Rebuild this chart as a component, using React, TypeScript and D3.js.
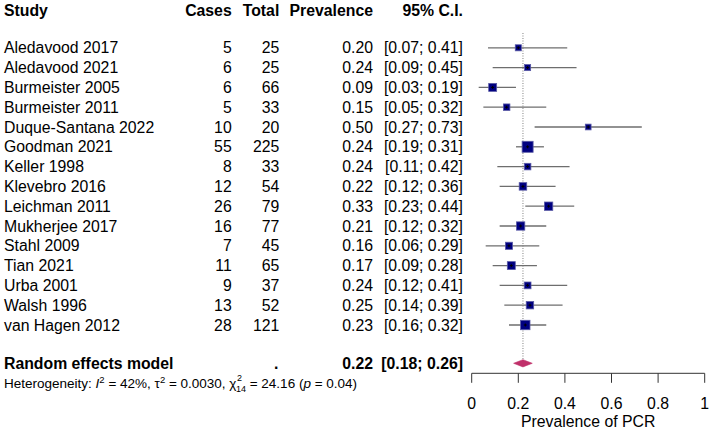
import React from "react";
import * as d3 from "d3";

const studies = [
  "Aledavood 2017", "Aledavood 2021", "Burmeister 2005", "Burmeister 2011",
  "Duque-Santana 2022", "Goodman 2021", "Keller 1998", "Klevebro 2016",
  "Leichman 2011", "Mukherjee 2017", "Stahl 2009", "Tian 2021",
  "Urba 2001", "Walsh 1996", "van Hagen 2012",
];
const cases = [5, 6, 6, 5, 10, 55, 8, 12, 26, 16, 7, 11, 9, 13, 28];
const totals = [25, 25, 66, 33, 20, 225, 33, 54, 79, 77, 45, 65, 37, 52, 121];
const prev = [0.2, 0.24, 0.09, 0.15, 0.5, 0.24, 0.24, 0.22, 0.33, 0.21, 0.16, 0.17, 0.24, 0.25, 0.23];
const lower = [0.07, 0.09, 0.03, 0.05, 0.27, 0.19, 0.11, 0.12, 0.23, 0.12, 0.06, 0.09, 0.12, 0.14, 0.16];
const upper = [0.41, 0.45, 0.19, 0.32, 0.73, 0.31, 0.42, 0.36, 0.44, 0.32, 0.29, 0.28, 0.41, 0.39, 0.32];
// estimated relative weights (percent), read from square sizes
const weights = [3.1, 3.1, 7.3, 4.0, 2.6, 17.8, 4.0, 6.2, 8.5, 8.3, 5.3, 7.3, 4.5, 6.0, 11.8];

const pooled = { est: 0.22, lo: 0.18, hi: 0.26 };
const xTicks = [0, 0.2, 0.4, 0.6, 0.8, 1];

const FONT = "'Liberation Sans', Arial, sans-serif";
const FS = 15.8;

export default function App() {
  const W = 709, H = 432;
  const x = d3.scaleLinear().domain([0, 1]).range([471.7, 704.7]);
  const y = d3.scaleLinear().domain([0, 14]).range([47.8, 325]);
  const wMax = d3.max(weights) as number;
  const side = d3.scaleSqrt().domain([0, wMax]).range([2.5, 11]);
  const fmt2 = d3.format(".2f");
  const headerY = 10;
  const sumY = 363.3;
  const hetY = 383;
  const axisY = 373.3;

  const colCases = 231.7, colTotal = 279.3, colPrev = 373, colCI = 463;

  const txt = { fontFamily: FONT, fontSize: FS, fill: "#000" } as const;

  return (
    <svg width={W} height={H} style={{ position: "absolute", left: 0, top: 0, background: "#fff" }}>
      {/* headers */}
      <g style={{ ...txt, fontWeight: "bold" }}>
        <text x={4} y={headerY} dy="0.35em" fontWeight="bold">Study</text>
        <text x={colCases} y={headerY} dy="0.35em" textAnchor="end" fontWeight="bold">Cases</text>
        <text x={colTotal} y={headerY} dy="0.35em" textAnchor="end" fontWeight="bold">Total</text>
        <text x={colPrev} y={headerY} dy="0.35em" textAnchor="end" fontWeight="bold">Prevalence</text>
        <text x={colCI} y={headerY} dy="0.35em" textAnchor="end" fontWeight="bold">95% C.I.</text>
      </g>

      {/* reference line */}
      <line x1={x(pooled.est)} x2={x(pooled.est)} y1={33} y2={sumY - 3}
        stroke="#808080" strokeWidth={1} strokeDasharray="1,1.5" />

      {studies.map((s, i) => {
        const yy = y(i);
        const sz = side(weights[i]);
        return (
          <g key={s}>
            <text {...txt} x={4} y={yy} dy="0.35em">{s}</text>
            <text {...txt} x={colCases} y={yy} dy="0.35em" textAnchor="end">{cases[i]}</text>
            <text {...txt} x={colTotal} y={yy} dy="0.35em" textAnchor="end">{totals[i]}</text>
            <text {...txt} x={colPrev} y={yy} dy="0.35em" textAnchor="end">{fmt2(prev[i])}</text>
            <text {...txt} x={colCI} y={yy} dy="0.35em" textAnchor="end">[{fmt2(lower[i])}; {fmt2(upper[i])}]</text>
            <line x1={x(lower[i])} x2={x(upper[i])} y1={yy} y2={yy} stroke="#6e6e6e" strokeWidth={1.3} />
            <rect x={x(prev[i]) - sz / 2} y={yy - sz / 2} width={sz} height={sz}
              fill="#000080" stroke="#5a5aa6" strokeWidth={0.8} />
            <line x1={x(prev[i]) - 1.5} x2={x(prev[i]) + 1.5} y1={yy} y2={yy} stroke="#000" strokeWidth={1} />
            <line x1={x(prev[i])} x2={x(prev[i])} y1={yy - 1.5} y2={yy + 1.5} stroke="#000" strokeWidth={1} />
          </g>
        );
      })}

      {/* summary */}
      <g>
        <text {...txt} x={4} y={sumY} dy="0.35em" fontWeight="bold">Random effects model</text>
        <text {...txt} x={colTotal - 1} y={sumY} dy="0.35em" textAnchor="end" fontWeight="bold">.</text>
        <text {...txt} x={colPrev} y={sumY} dy="0.35em" textAnchor="end" fontWeight="bold">{fmt2(pooled.est)}</text>
        <text {...txt} x={colCI} y={sumY} dy="0.35em" textAnchor="end" fontWeight="bold">[{fmt2(pooled.lo)}; {fmt2(pooled.hi)}]</text>
        <polygon
          points={[
            [x(pooled.lo), sumY],
            [x(pooled.est), sumY - 3.6],
            [x(pooled.hi), sumY],
            [x(pooled.est), sumY + 3.6],
          ].map((p) => p.join(",")).join(" ")}
          fill="#c0306a" stroke="#c0306a" strokeWidth={0.6}
        />
      </g>

      {/* heterogeneity */}
      <text x={4} y={hetY} dy="0.35em" fontFamily={FONT} fontSize={13.5} fill="#000">
        <tspan>Heterogeneity: </tspan>
        <tspan fontStyle="italic">I</tspan>
        <tspan dy={-5} fontSize={9.5}>2</tspan>
        <tspan dy={5}> = 42%, τ</tspan>
        <tspan dy={-5} fontSize={9.5}>2</tspan>
        <tspan dy={5}> = 0.0030, χ</tspan>
        <tspan dy={-7} fontSize={9} dx={0.5}>2</tspan>
        <tspan dy={11.5} dx={-6} fontSize={9}>14</tspan>
        <tspan dy={-4.5}> = 24.16 (</tspan>
        <tspan fontStyle="italic">p</tspan>
        <tspan> = 0.04)</tspan>
      </text>

      {/* axis */}
      <g>
        <line x1={x(0)} x2={x(1)} y1={axisY} y2={axisY} stroke="#333" strokeWidth={1} />
        {xTicks.map((t) => (
          <g key={t}>
            <line x1={x(t)} x2={x(t)} y1={axisY} y2={axisY + 9.5} stroke="#333" strokeWidth={1} />
            <text {...txt} x={x(t)} y={403} dy="0.35em" textAnchor="middle">{d3.format("~g")(t)}</text>
          </g>
        ))}
        <text {...txt} x={(x(0) + x(1)) / 2} y={421.7} dy="0.35em" textAnchor="middle">Prevalence of PCR</text>
      </g>
    </svg>
  );
}
